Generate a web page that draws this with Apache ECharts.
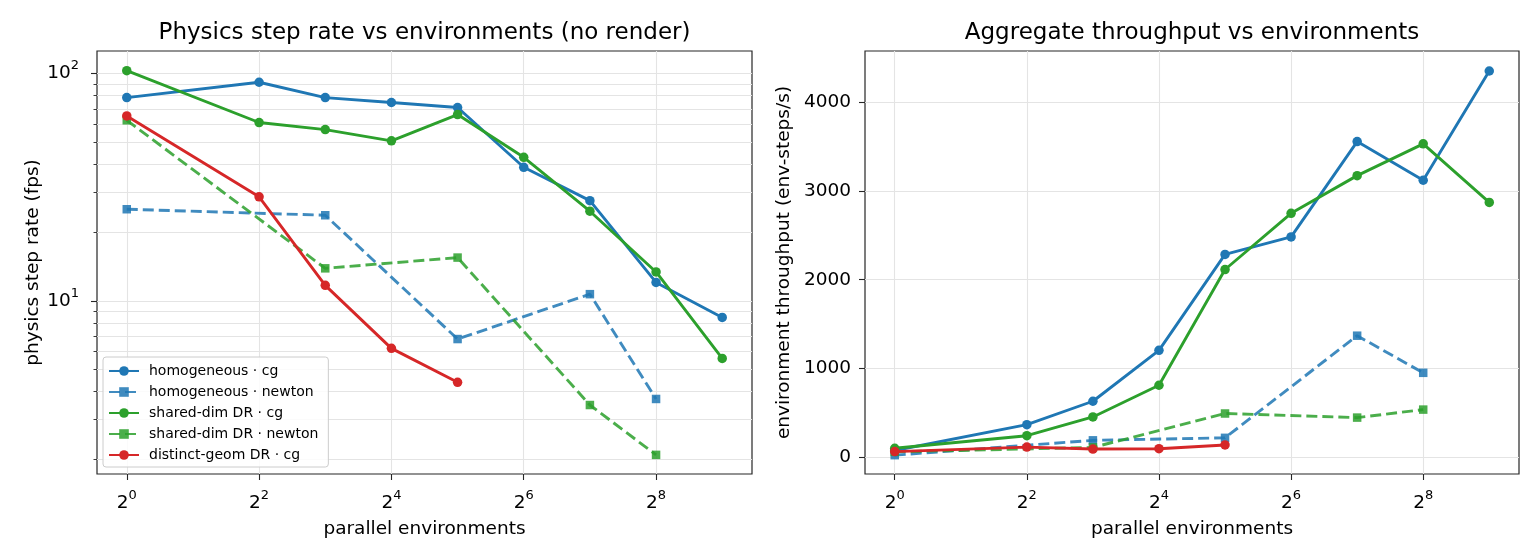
<!DOCTYPE html>
<html><head><meta charset="utf-8">
<script src="https://cdn.jsdelivr.net/npm/echarts@6/dist/echarts.min.js"></script>
<style>html,body{margin:0;padding:0;background:#fff}#c{width:1540px;height:560px}</style>
</head><body><div id="c"></div>
<script>
// ---- data ----
const envsAll = [1, 4, 8, 16, 32, 64, 128, 256, 512];
const envsNewton = [1, 8, 32, 128, 256];
const envsDistinct = [1, 4, 8, 16, 32];
const seriesNames = ['homogeneous · cg', 'homogeneous · newton', 'shared-dim DR · cg', 'shared-dim DR · newton', 'distinct-geom DR · cg'];

// physics step rate (fps)
const fpsHomCg = [78.4, 91.6, 78.4, 74.6, 70.9, 38.7, 27.6, 12.05, 8.45];
const fpsHomNewton = [25.3, 23.8, 6.79, 10.7, 3.70];
const fpsSharedCg = [103, 60.9, 56.7, 50.6, 66.0, 42.8, 24.8, 13.4, 5.58];
const fpsSharedNewton = [62.3, 13.9, 15.5, 3.48, 2.10];
const fpsDistinctCg = [65.1, 28.7, 11.7, 6.18, 4.38];

// aggregate throughput (env-steps/s)
const tputHomCg = [78, 368, 632, 1205, 2285, 2482, 3555, 3120, 4350];
const tputHomNewton = [25, 192, 220, 1370, 952];
const tputSharedCg = [103, 244, 455, 812, 2115, 2748, 3172, 3530, 2870];
const tputSharedNewton = [62, 112, 494, 448, 538];
const tputDistinctCg = [65, 116, 94, 98, 140];

// tick labels
const xTickEnvs = [1, 4, 16, 64, 256];
const yMajorFps = [10, 100];
const yMinorFps = [2, 3, 4, 5, 6, 7, 8, 9, 20, 30, 40, 50, 60, 70, 80, 90];
const yTicksTput = [0, 1000, 2000, 3000, 4000];

// ---- styling ----
const FONT = 'DejaVu Sans';
const BLUE = '#1f77b4', GREEN = '#2ca02c', RED = '#d62728';
const GRIDC = '#e4e4e4';
const SPINE = '#262626';
const supRich = {
  b: { fontSize: 18.5, fontFamily: FONT, color: '#000', lineHeight: 28 },
  s: { fontSize: 13, fontFamily: FONT, color: '#000', lineHeight: 12, verticalAlign: 'top' }
};
const GRIDS = [
  { left: 97, top: 51, width: 655, height: 423 },
  { left: 865, top: 51, width: 654, height: 423 }
];
const XMIN = Math.pow(2, -0.45), XMAX = Math.pow(2, 9.45);

function xAxisFor(gi) {
  return {
    type: 'log', logBase: 2, gridIndex: gi, min: XMIN, max: XMAX,
    name: 'parallel environments', nameLocation: 'middle', nameGap: 46,
    nameTextStyle: { fontFamily: FONT, fontSize: 18.5, color: '#000' },
    axisLine: { show: false, onZero: false },
    axisTick: { show: true, customValues: xTickEnvs, length: 6, lineStyle: { color: SPINE, width: 1.1 } },
    axisLabel: { customValues: xTickEnvs, margin: 15, formatter: v => '{b|2}{s|' + Math.round(Math.log2(v)) + '}', rich: supRich },
    minorTick: { show: false },
    splitLine: { show: true, lineStyle: { color: GRIDC, width: 1.1 } }
  };
}

const pairs = (xs, ys) => xs.map((x, i) => [x, ys[i]]);
function mk(idx, xs, ys, color, dashed, gi) {
  return {
    name: seriesNames[idx], type: 'line', xAxisIndex: gi, yAxisIndex: gi === 0 ? 0 : 2,
    data: pairs(xs, ys),
    symbol: dashed ? 'rect' : 'circle', symbolSize: dashed ? 8.5 : 9.5,
    showSymbol: true,
    lineStyle: { color, width: 2.9, type: dashed ? [11, 5] : 'solid', opacity: dashed ? 0.85 : 1 },
    itemStyle: { color, opacity: dashed ? 0.85 : 1, borderWidth: 0 },
    emphasis: { disabled: true },
    z: 3 + idx
  };
}

const option = {
  animation: false,
  backgroundColor: '#fff',
  textStyle: { fontFamily: FONT },
  title: [
    { text: 'Physics step rate vs environments (no render)', left: 424.5, top: 22, textAlign: 'center', padding: 0,
      textStyle: { fontFamily: FONT, fontSize: 23, fontWeight: 'normal', color: '#000' } },
    { text: 'Aggregate throughput vs environments', left: 1192, top: 22, textAlign: 'center', padding: 0,
      textStyle: { fontFamily: FONT, fontSize: 23, fontWeight: 'normal', color: '#000' } }
  ],
  legend: {
    data: seriesNames, orient: 'vertical', left: 103, top: 357,
    padding: [7, 10, 5, 5], itemGap: 7, itemWidth: 30, itemHeight: 12,
    backgroundColor: 'rgba(255,255,255,0.85)', borderColor: '#cccccc', borderWidth: 1, borderRadius: 3,
    textStyle: { fontFamily: FONT, fontSize: 14, color: '#000', padding: [0, 0, 0, 5] }
  },
  grid: GRIDS.map(g => Object.assign({ show: true, borderColor: SPINE, borderWidth: 1.2, backgroundColor: 'transparent' }, g)),
  xAxis: [xAxisFor(0), xAxisFor(1)],
  yAxis: [
    {
      type: 'log', gridIndex: 0, min: 1.73, max: 125.7, position: 'left',
      name: 'physics step rate (fps)', nameLocation: 'middle', nameGap: 54,
      nameTextStyle: { fontFamily: FONT, fontSize: 18.5, color: '#000' },
      axisLine: { show: false, onZero: false },
      axisTick: { show: true, customValues: yMajorFps, length: 6, lineStyle: { color: SPINE, width: 1.1 } },
      axisLabel: { customValues: yMajorFps, margin: 18, formatter: v => '{b|10}{s|' + Math.round(Math.log10(v)) + '}', rich: supRich },
      splitLine: { show: true, lineStyle: { color: GRIDC, width: 1.1 } },
      minorTick: { show: false }
    },
    {
      type: 'log', gridIndex: 0, min: 1.73, max: 125.7, position: 'left',
      axisLine: { show: false, onZero: false },
      axisTick: { show: true, customValues: yMinorFps, length: 3.5, lineStyle: { color: SPINE, width: 0.9 } },
      axisLabel: { show: false, customValues: yMinorFps },
      splitLine: { show: true, lineStyle: { color: GRIDC, width: 1.1 } },
      minorTick: { show: false }
    },
    {
      type: 'value', gridIndex: 1, min: -187, max: 4575,
      name: 'environment throughput (env-steps/s)', nameLocation: 'middle', nameGap: 71,
      nameTextStyle: { fontFamily: FONT, fontSize: 18.5, color: '#000' },
      axisLine: { show: false, onZero: false },
      axisTick: { show: true, customValues: yTicksTput, length: 6, lineStyle: { color: SPINE, width: 1.1 } },
      axisLabel: { customValues: yTicksTput, margin: 14, fontFamily: FONT, fontSize: 18.5, color: '#000', formatter: v => String(v) },
      splitLine: { show: true, lineStyle: { color: GRIDC, width: 1.1 } }
    }
  ],
  series: [
    mk(0, envsAll, fpsHomCg, BLUE, false, 0),
    mk(1, envsNewton, fpsHomNewton, BLUE, true, 0),
    mk(2, envsAll, fpsSharedCg, GREEN, false, 0),
    mk(3, envsNewton, fpsSharedNewton, GREEN, true, 0),
    mk(4, envsDistinct, fpsDistinctCg, RED, false, 0),
    mk(0, envsAll, tputHomCg, BLUE, false, 1),
    mk(1, envsNewton, tputHomNewton, BLUE, true, 1),
    mk(2, envsAll, tputSharedCg, GREEN, false, 1),
    mk(3, envsNewton, tputSharedNewton, GREEN, true, 1),
    mk(4, envsDistinct, tputDistinctCg, RED, false, 1)
  ]
};
const chart = echarts.init(document.getElementById('c'), null, { renderer: 'canvas' });
chart.setOption(option);
</script>
</body></html>
